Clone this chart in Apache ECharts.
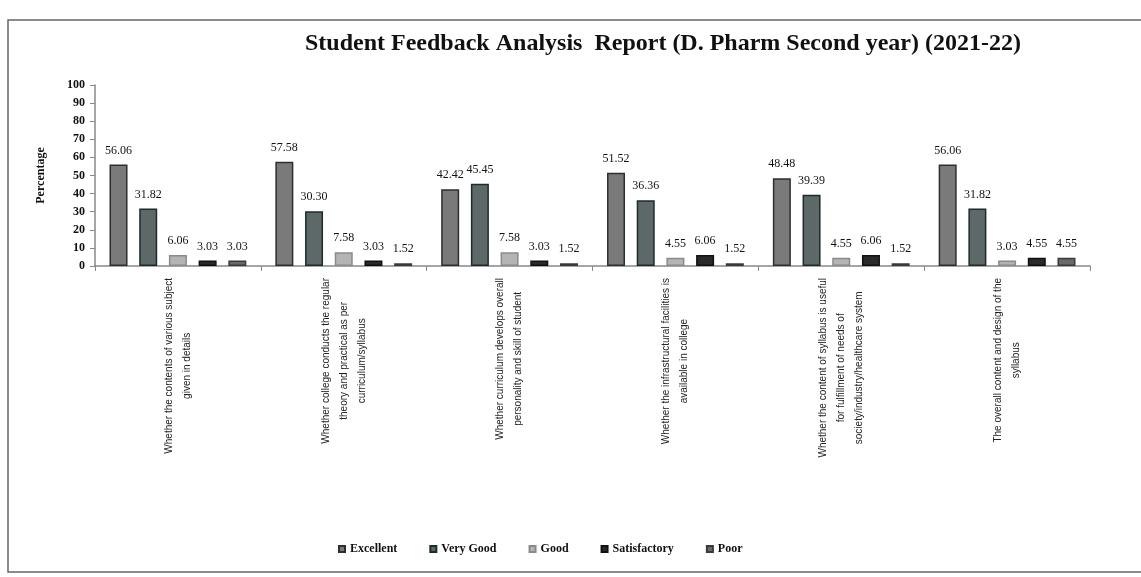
<!DOCTYPE html>
<html>
<head>
<meta charset="utf-8">
<script src="https://cdn.jsdelivr.net/npm/echarts@6/dist/echarts.min.js"></script>
<style>
  html, body { margin: 0; padding: 0; background: #fff; }
  #main { width: 1141px; height: 577px; }
</style>
</head>
<body>
<div id="main"></div>
<script>
  // questions on the x axis
  var categories = [
    'Whether the contents of various subject\ngiven in details',
    'Whether college conducts the regular\ntheory and practical as per\ncurriculum/syllabus',
    'Whether curriculum develops overall\npersonality and skill of student',
    'Whether the infrastructural facilities is\navailable in college',
    'Whether the content of syllabus is useful\nfor fulfillment of needs of\nsociety/industry/healthcare system',
    'The overall content and design of the\nsyllabus'
  ];
  var seriesNames = ['Excellent', 'Very Good', 'Good', 'Satisfactory', 'Poor'];

  var excellent    = [56.06, 57.58, 42.42, 51.52, 48.48, 56.06];
  var veryGood     = [31.82, 30.30, 45.45, 36.36, 39.39, 31.82];
  var good         = [6.06, 7.58, 7.58, 4.55, 4.55, 3.03];
  var satisfactory = [3.03, 3.03, 3.03, 6.06, 6.06, 4.55];
  var poor         = [3.03, 1.52, 1.52, 1.52, 1.52, 4.55];

  var colors  = ['#7a7a7a', '#5d6868', '#b4b4b4', '#2a2a2a', '#6a6a6a'];
  var borders = ['#2e2e2e', '#1f2a2a', '#8a8a8a', '#111111', '#3a3a3a'];

  var serif = '"Liberation Serif", "Times New Roman", serif';
  var sans = '"Liberation Sans", Arial, sans-serif';

  var myChart = echarts.init(document.getElementById('main'));

  var allData = [excellent, veryGood, good, satisfactory, poor];
  var series = allData.map(function (d, i) {
    return {
      name: seriesNames[i],
      type: 'bar',
      barWidth: 18,
      barGap: '65%',
      data: d,
      itemStyle: {
        color: colors[i],
        borderColor: borders[i],
        borderWidth: 1.5
      },
      label: {
        show: true,
        position: 'top',
        distance: 8,
        color: '#111',
        fontFamily: serif,
        fontSize: 12,
        formatter: function (p) { return p.value.toFixed(2); }
      }
    };
  });

  var option = {
    color: colors,
    animation: false,
    title: {
      text: 'Student Feedback Analysis  Report (D. Pharm Second year) (2021-22)',
      left: 658,
      top: 27,
      textAlign: 'center',
      textStyle: {
        fontFamily: serif,
        fontWeight: 'bold',
        fontSize: 24,
        color: '#111'
      }
    },
    legend: {
      data: seriesNames,
      bottom: 17,
      left: 333,
      icon: 'rect',
      itemWidth: 6,
      itemHeight: 6,
      itemGap: 32,
      textStyle: {
        fontFamily: serif,
        fontWeight: 'bold',
        fontSize: 12,
        color: '#111'
      }
    },
    graphic: [{
      type: 'rect',
      shape: { x: 8, y: 20, width: 1160, height: 552 },
      style: { fill: 'none', stroke: '#666', lineWidth: 1.5 },
      silent: true
    }],
    grid: {
      left: 95,
      right: 51,
      top: 85,
      bottom: 311
    },
    xAxis: {
      type: 'category',
      data: categories,
      axisLine: { lineStyle: { color: '#888', width: 1.5 } },
      axisTick: { show: true, length: 5, lineStyle: { color: '#888' } },
      axisLabel: {
        rotate: 90,
        interval: 0,
        margin: 12,
        fontFamily: sans,
        fontSize: 10,
        lineHeight: 18,
        color: '#222',
        formatter: function (v) {
          return v.split('\n').map(function (s) { return '{c|' + s + '}'; }).join('\n');
        },
        rich: {
          c: {
            align: 'center',
            fontFamily: sans,
            fontSize: 10,
            lineHeight: 18,
            color: '#222'
          }
        }
      }
    },
    yAxis: {
      type: 'value',
      min: 0,
      max: 100,
      interval: 10,
      name: 'Percentage',
      nameLocation: 'middle',
      nameGap: 48,
      nameTextStyle: {
        fontFamily: serif,
        fontWeight: 'bold',
        fontSize: 12,
        color: '#111'
      },
      axisLine: { show: true, lineStyle: { color: '#888', width: 1.5 } },
      axisTick: { show: true, length: 5, lineStyle: { color: '#888' } },
      splitLine: { show: false },
      axisLabel: {
        fontFamily: serif,
        fontWeight: 'bold',
        fontSize: 12,
        color: '#111',
        margin: 10
      }
    },
    series: series
  };

  myChart.setOption(option);
</script>
</body>
</html>
